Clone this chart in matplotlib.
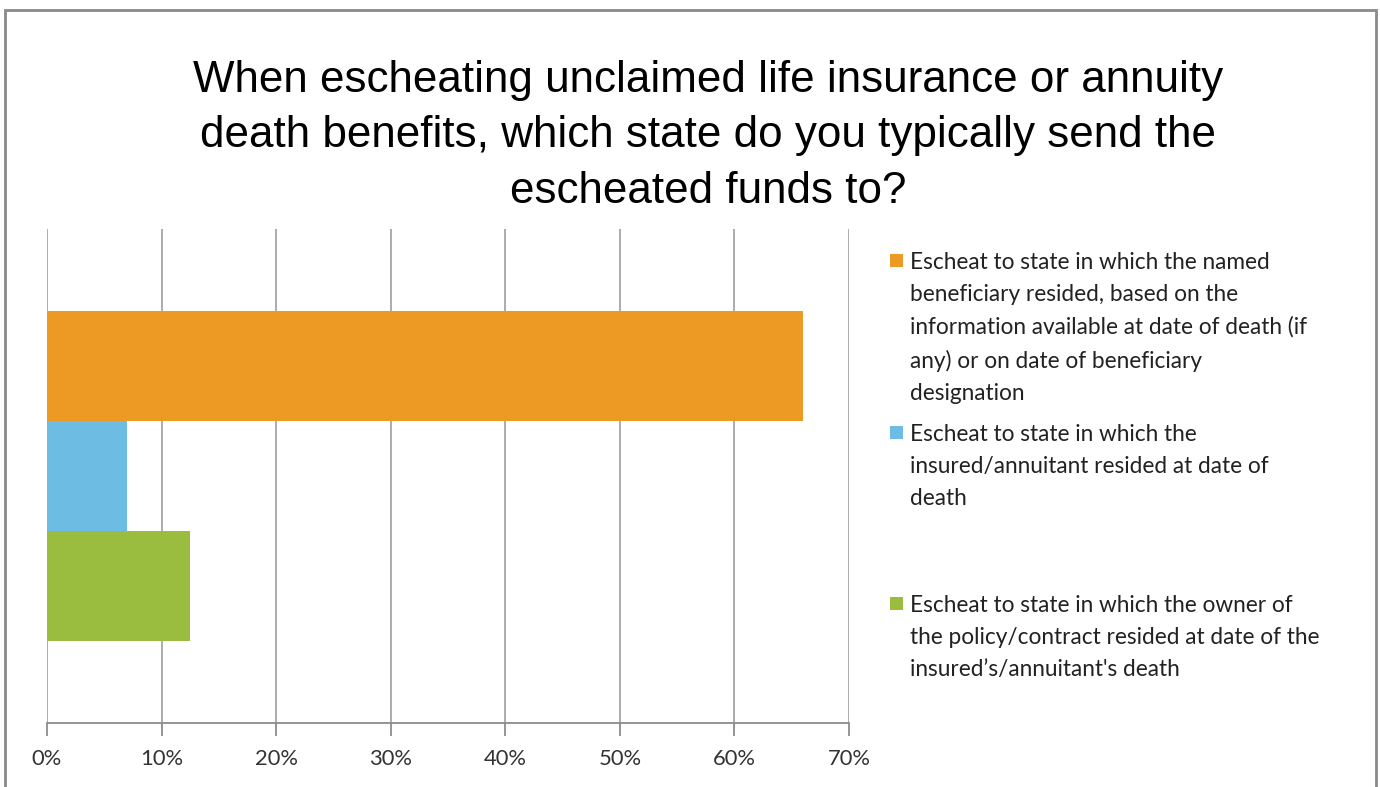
import matplotlib
matplotlib.use("Agg")
import matplotlib.pyplot as plt
from matplotlib.patches import Rectangle
from matplotlib.ticker import PercentFormatter

title = ("When escheating unclaimed life insurance or annuity\n"
         "death benefits, which state do you typically send the\n"
         "escheated funds to?")
series_labels = [
    "Escheat to state in which the named\nbeneficiary resided, based on the\ninformation available at date of death (if\nany) or on date of beneficiary\ndesignation",
    "Escheat to state in which the\ninsured/annuitant resided at date of\ndeath",
    "Escheat to state in which the owner of\nthe policy/contract resided at date of the\ninsured\u2019s/annuitant's death",
]
series_values = [66.0, 7.0, 12.5]
series_colors = ["#EC9A24", "#6CBCE3", "#9BBD3F"]
x_ticks = [0, 10, 20, 30, 40, 50, 60, 70]

W, H = 1380, 787
fig = plt.figure(figsize=(W / 100, H / 100), dpi=100)
fig.patch.set_facecolor("white")

# outer frame
fig.add_artist(Rectangle((5 / W, -0.01), (1376 - 5) / W, 1 - 10 / H + 0.01,
                         transform=fig.transFigure, fill=False,
                         edgecolor="#8A8A8A", linewidth=2))

ax = fig.add_axes([47 / W, 1 - 723 / H, (849 - 47) / W, (723 - 229) / H])
bar_h = 110 / 494
n = len(series_values)
for i, (v, c) in enumerate(zip(series_values, series_colors)):
    y = (n - 1) / 2 * bar_h - i * bar_h
    ax.barh(y, v, height=bar_h, color=c, edgecolor="none", zorder=3)

ax.set_xlim(0, 70)
ax.set_ylim(-0.5, 0.5)
ax.set_xticks(x_ticks)
ax.xaxis.set_major_formatter(PercentFormatter(decimals=0))
ax.set_yticks([])
ax.grid(axis="x", color="#A6A6A6", linewidth=1.3, zorder=0)
for s in ["top", "right", "left"]:
    ax.spines[s].set_visible(False)
ax.spines["bottom"].set_color("#8C8C8C")
ax.spines["bottom"].set_linewidth(1.3)
ax.tick_params(axis="x", length=9, width=1.3, color="#8C8C8C", pad=10,
               labelsize=15.8, labelcolor="#333333")
for lbl in ax.get_xticklabels():
    lbl.set_family(["Lato", "DejaVu Sans"])

fig.text(708 / W, 1 - 60 / H, title, ha="center", va="top",
         fontsize=31.7, family=["Liberation Sans", "DejaVu Sans"],
         color="black", linespacing=1.45)

# legend
slot_tops = [260, 432, 603]
for lbl, c, yc in zip(series_labels, series_colors, slot_tops):
    fig.add_artist(Rectangle((890 / W, 1 - (yc + 7) / H), 13 / W, 13 / H,
                             transform=fig.transFigure, facecolor=c,
                             edgecolor="none"))
    fig.text(910 / W, 1 - (yc - 8) / H, lbl, ha="left", va="top",
             fontsize=16.3, family=["Lato", "DejaVu Sans"], color="#222222",
             linespacing=1.65)

fig.savefig("out.png", dpi=100, facecolor="white")
